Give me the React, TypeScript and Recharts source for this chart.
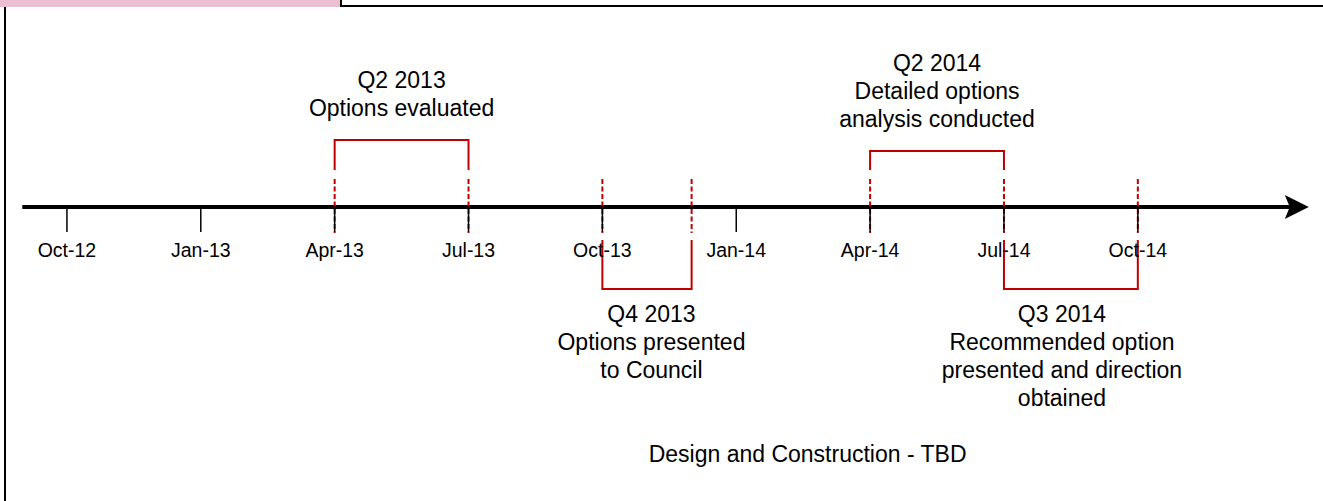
import React from "react";
import {
  ComposedChart,
  Line,
  Scatter,
  XAxis,
  YAxis,
  ReferenceLine,
  ReferenceDot,
} from "recharts";

// months counted from Oct-12
const tickMonths = [0, 3, 6, 9, 12, 15, 18, 21, 24];
const tickLabels = ["Oct-12", "Jan-13", "Apr-13", "Jul-13", "Oct-13", "Jan-14", "Apr-14", "Jul-14", "Oct-14"];

// red dashed milestone markers
const markerMonths = [6, 9, 12, 14, 18, 21, 24];

const phaseStart = [6, 12, 18, 21];
const phaseEnd = [9, 14, 21, 24];
const phaseReach = [67, -82, 56, -82]; // + above the timeline, - below
const phaseLabelX = [7.5, 13.1, 19.5, 22.3];
const phaseTitles = ["Q2 2013", "Q4 2013", "Q2 2014", "Q3 2014"];
const phaseNotes = [
  ["Options evaluated"],
  ["Options presented", "to Council"],
  ["Detailed options", "analysis conducted"],
  ["Recommended option", "presented and direction", "obtained"],
];

const timelineSpan = [-1, 27.45];
const footerMonth = 16.6;
const footerText = "Design and Construction - TBD";

const RED = "#C00000";
const FONT = "Arial, 'Liberation Sans', sans-serif";

const tickData = tickMonths.map((x, i) => ({ x, y: 0, label: tickLabels[i] }));
const bracketData = phaseStart.map((s, i) => {
  const r = phaseReach[i];
  const inner = r > 0 ? 37 : -33;
  return [
    { x: s, y: inner },
    { x: s, y: r },
    { x: phaseEnd[i], y: r },
    { x: phaseEnd[i], y: inner },
  ];
});
const labelData = phaseTitles.map((t, i) => ({
  x: phaseLabelX[i],
  y: phaseReach[i],
  lines: [t, ...phaseNotes[i]],
}));

const TickMark = (props: any) => {
  const { cx, cy, payload } = props;
  return (
    <g>
      <line x1={cx} x2={cx} y1={cy} y2={cy + 25} stroke="#000" strokeWidth={1.5} />
      <text x={cx} y={cy + 50} textAnchor="middle" fontSize={19.5} fontFamily={FONT} fill="#000">
        {payload.label}
      </text>
    </g>
  );
};

const PhaseLabel = (props: any) => {
  const { cx, cy, payload } = props;
  const lines: string[] = payload.lines;
  const above = payload.y > 0;
  const first = above ? cy - 24 - (lines.length - 1) * 28 : cy + 33;
  return (
    <text textAnchor="middle" fontSize={23} fontFamily={FONT} fill="#000">
      {lines.map((l, i) => (
        <tspan key={i} x={cx} y={first + i * 28}>
          {l}
        </tspan>
      ))}
    </text>
  );
};

const Arrow = (props: any) => {
  const { cx, cy } = props;
  return (
    <path
      d={`M${cx + 17},${cy} L${cx - 7},${cy - 12} L${cx - 2},${cy} L${cx - 7},${cy + 12} Z`}
      fill="#000"
    />
  );
};

const Footer = (props: any) => (
  <text x={props.cx} y={props.cy} textAnchor="middle" fontSize={23} fontFamily={FONT} fill="#000">
    {footerText}
  </text>
);

export default function App() {
  return (
    <div style={{ position: "absolute", left: 0, top: 0, width: 1323, height: 501, background: "#fff" }}>
      <div style={{ position: "absolute", left: 0, top: 0, width: 340, height: 7, background: "#EBBFCF" }} />
      <div style={{ position: "absolute", left: 340, top: 0, width: 2, height: 7, background: "#000" }} />
      <div style={{ position: "absolute", left: 340, top: 5, width: 983, height: 2, background: "#000" }} />
      <div style={{ position: "absolute", left: 4, top: 7, width: 2, height: 494, background: "#000" }} />
      <div style={{ position: "absolute", left: 0, top: 0 }}>
        <ComposedChart width={1323} height={501} margin={{ top: 0, right: 0, bottom: 0, left: 0 }}>
          <XAxis type="number" dataKey="x" domain={[-1.5, 28.15]} hide allowDataOverflow />
          <YAxis type="number" dataKey="y" domain={[-294, 207]} hide allowDataOverflow />

          <Scatter data={tickData} shape={TickMark} activeShape={TickMark} isAnimationActive={false} />

          <ReferenceLine
            segment={[
              { x: timelineSpan[0], y: 0 },
              { x: timelineSpan[1], y: 0 },
            ]}
            stroke="#000"
            strokeWidth={4}
          />
          <ReferenceDot x={timelineSpan[1]} y={0} shape={Arrow} />

          {markerMonths.map((m) => (
            <ReferenceLine
              key={m}
              segment={[
                { x: m, y: 28 },
                { x: m, y: -26 },
              ]}
              stroke={RED}
              strokeWidth={2}
              strokeDasharray="5 2.5"
            />
          ))}

          {bracketData.map((d, i) => (
            <Line
              key={i}
              data={d}
              dataKey="y"
              stroke={RED}
              strokeWidth={2}
              dot={false}
              activeDot={false}
              isAnimationActive={false}
            />
          ))}

          <Scatter data={labelData} shape={PhaseLabel} activeShape={PhaseLabel} isAnimationActive={false} />
          <ReferenceDot x={footerMonth} y={-255} shape={Footer} />
        </ComposedChart>
      </div>
    </div>
  );
}
